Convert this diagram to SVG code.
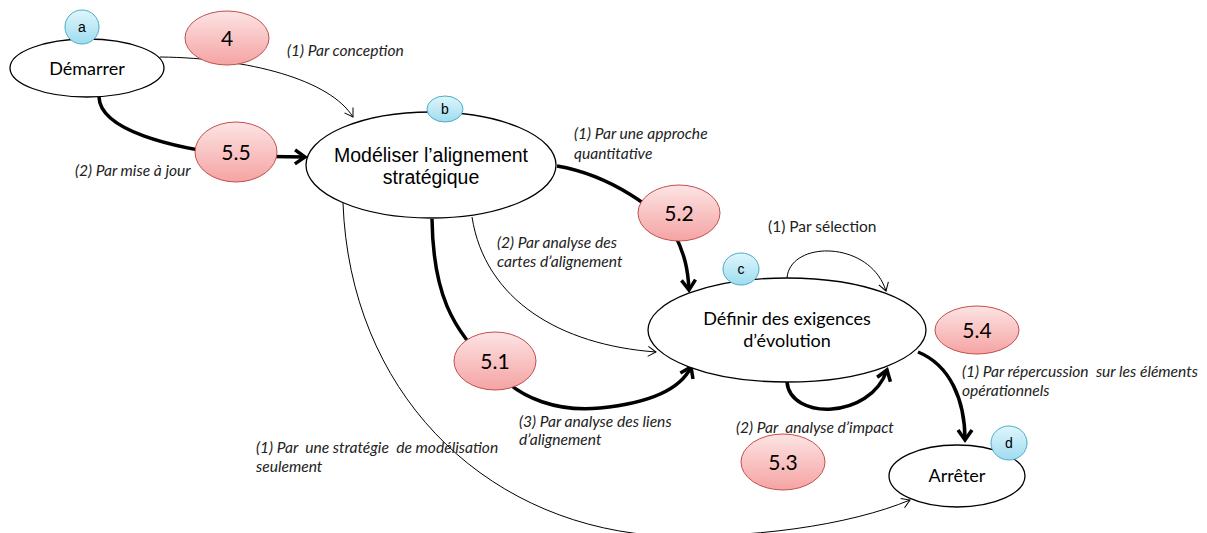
<svg xmlns="http://www.w3.org/2000/svg" width="1207" height="533" viewBox="0 0 1207 533">
<defs>
<linearGradient id="red" x1="0" y1="0" x2="0" y2="1"><stop offset="0" stop-color="#fde4e4"/><stop offset="1" stop-color="#f5a3a3"/></linearGradient>
<linearGradient id="blue" x1="0" y1="0" x2="0" y2="1"><stop offset="0" stop-color="#dff6fc"/><stop offset="1" stop-color="#9fdcf0"/></linearGradient>
<marker id="thin" markerUnits="userSpaceOnUse" markerWidth="14" markerHeight="14" refX="10" refY="6" orient="auto"><path d="M2,1 L10,6 L2,11" fill="none" stroke="#000" stroke-width="1"/></marker>
<marker id="thick" markerUnits="userSpaceOnUse" markerWidth="22" markerHeight="22" refX="14" refY="9" orient="auto"><path d="M4,2 L14,9 L4,16" fill="none" stroke="#000" stroke-width="3.5" stroke-linejoin="miter"/></marker>
<style>
.node{fill:#fff;stroke:#000;stroke-width:1.3}
.red{fill:url(#red);stroke:#c0504d;stroke-width:1}
.badge{fill:url(#blue);stroke:#4bacc6;stroke-width:1}
.thin{fill:none;stroke:#000;stroke-width:1;marker-end:url(#thin)}
.thick{fill:none;stroke:#000;stroke-width:3.5;marker-end:url(#thick)}
.lbl{font-family:Lato,"Liberation Sans",sans-serif;font-style:italic;font-size:15.6px;fill:#222;white-space:pre}
.lbln{font-family:Lato,"Liberation Sans",sans-serif;font-size:15.5px;fill:#222}
.nt{font-family:Lato,"Liberation Sans",sans-serif;font-size:18px;fill:#000;text-anchor:middle}
.nta{font-family:"Liberation Sans",Arial,sans-serif;font-size:19.5px;fill:#000;text-anchor:middle}
.rt{font-family:Lato,"Liberation Sans",sans-serif;font-size:21px;fill:#000;text-anchor:middle}
.bt{font-family:"Liberation Sans",Arial,sans-serif;font-size:14px;fill:#000;text-anchor:middle}
</style>
</defs>
<rect width="1207" height="533" fill="#fff"/>

<g id="connectors">
<path class="thin" d="M160,57 C250,58 330,80 353,117"/>
<path class="thick" d="M99,97 C100,130 170,148 240,156 L305,157"/>
<path class="thick" d="M557,166 C610,175 660,210 675,235 C685,255 688,270 689,290"/>
<path class="thin" d="M472,217 C485,300 560,345 656,352"/>
<path class="thick" d="M432,219 C433,290 450,330 495,370 C520,400 560,412 600,408 C650,403 680,390 691,367"/>
<path class="thin" d="M787,278 C790,240 870,240 886,291"/>
<path class="thick" d="M787,382 C790,420 870,420 887,370"/>
<path class="thick" d="M918,352 C950,365 965,400 965,440"/>
<path class="thin" d="M343,203 C350,390 480,520 650,535 C750,540 850,525 910,500"/>
</g>

<g id="labels">
<text class="lbl" x="287" y="56">(1) Par conception</text>
<text class="lbl" x="75" y="176">(2) Par mise à jour</text>
<text class="lbl" x="574" y="139">(1) Par une approche</text>
<text class="lbl" x="574" y="159">quantitative</text>
<text class="lbl" x="497" y="248">(2) Par analyse des</text>
<text class="lbl" x="497" y="267">cartes d’alignement</text>
<text class="lbln" x="768" y="232">(1) Par sélection</text>
<text class="lbl" x="962" y="377">(1) Par répercussion  sur les éléments</text>
<text class="lbl" x="962" y="396">opérationnels</text>
<text class="lbl" x="736" y="433">(2) Par  analyse d’impact</text>
<text class="lbl" x="519" y="427">(3) Par analyse des liens</text>
<text class="lbl" x="519" y="445">d’alignement</text>
<text class="lbl" x="256" y="453">(1) Par  une stratégie  de modélisation</text>
<text class="lbl" x="256" y="472">seulement</text>
</g>

<g id="node-demarrer">
<ellipse class="node" cx="87" cy="68" rx="77" ry="29"/>
<text class="nt" x="87" y="75">Démarrer</text>
</g>
<g id="node-modeliser">
<ellipse class="node" cx="431" cy="165" rx="125" ry="53"/>
<text class="nta" x="431" y="162">Modéliser l’alignement</text>
<text class="nta" x="431" y="184">stratégique</text>
</g>
<g id="node-definir">
<ellipse class="node" cx="787" cy="330" rx="139" ry="52"/>
<text class="nt" x="787" y="325">Définir des exigences</text>
<text class="nt" x="787" y="347">d’évolution</text>
</g>
<g id="node-arreter">
<ellipse class="node" cx="957" cy="476" rx="68" ry="31"/>
<text class="nt" x="957" y="482">Arrêter</text>
</g>

<g id="tag-4"><ellipse class="red" cx="227" cy="38" rx="42" ry="27"/><text class="rt" x="227" y="46">4</text></g>
<g id="tag-5-5"><ellipse class="red" cx="236" cy="152" rx="41" ry="30"/><text class="rt" x="236" y="160">5.5</text></g>
<g id="tag-5-2"><ellipse class="red" cx="679" cy="213" rx="41" ry="28"/><text class="rt" x="679" y="221">5.2</text></g>
<g id="tag-5-1"><ellipse class="red" cx="495" cy="361" rx="41" ry="29"/><text class="rt" x="495" y="369">5.1</text></g>
<g id="tag-5-4"><ellipse class="red" cx="977" cy="330" rx="42" ry="24"/><text class="rt" x="977" y="338">5.4</text></g>
<g id="tag-5-3"><ellipse class="red" cx="783" cy="462" rx="42" ry="28"/><text class="rt" x="783" y="470">5.3</text></g>

<g id="badge-a"><ellipse class="badge" cx="82" cy="27" rx="17" ry="17"/><text class="bt" x="82" y="32">a</text></g>
<g id="badge-b"><ellipse class="badge" cx="445" cy="109" rx="18" ry="13"/><text class="bt" x="445" y="114">b</text></g>
<g id="badge-c"><ellipse class="badge" cx="741" cy="269" rx="18" ry="16"/><text class="bt" x="741" y="274">c</text></g>
<g id="badge-d"><ellipse class="badge" cx="1009" cy="443" rx="18" ry="17"/><text class="bt" x="1009" y="448">d</text></g>
</svg>
